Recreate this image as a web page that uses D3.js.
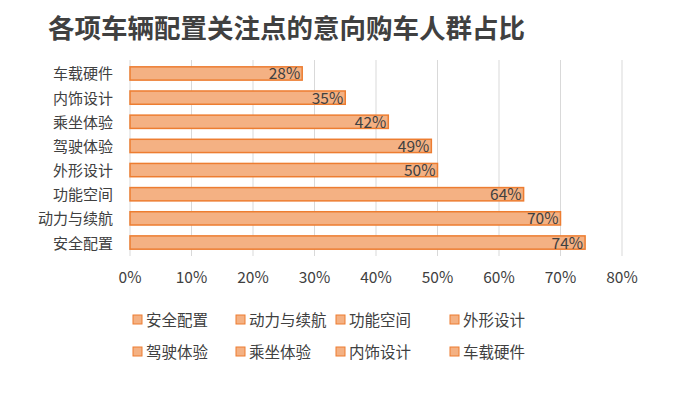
<!DOCTYPE html><html><head><meta charset="utf-8"><script src="https://cdn.jsdelivr.net/npm/d3@7"></script>
<style>body{margin:0;background:#fff}text{font-family:"Noto Sans CJK SC",sans-serif}</style></head><body><svg id="c" width="678" height="400"></svg><script>
const categories=["车载硬件","内饰设计","乘坐体验","驾驶体验","外形设计","功能空间","动力与续航","安全配置"];
const values=[28,35,42,49,50,64,70,74];
const ticks=[0,10,20,30,40,50,60,70,80];
const legendOrder=["安全配置","动力与续航","功能空间","外形设计","驾驶体验","乘坐体验","内饰设计","车载硬件"];
const svg=d3.select("#c");
svg.append("text").attr("x",48).attr("y",38).attr("font-size",26.5).attr("font-weight","bold").attr("fill","#404040").text("各项车辆配置关注点的意向购车人群占比");
const x=d3.scaleLinear().domain([0,80]).range([130,622]);
const y=d3.scaleBand().domain(categories).range([62,254]).paddingInner(0.45).paddingOuter(0.2);
svg.append("g").selectAll("line").data(ticks).join("line").attr("x1",d=>x(d)).attr("x2",d=>x(d)).attr("y1",60).attr("y2",256).attr("stroke","#d9d9d9");
svg.append("g").selectAll("rect").data(values).join("rect").attr("x",x(0)).attr("y",(d,i)=>y(categories[i])).attr("width",d=>x(d)-x(0)).attr("height",y.bandwidth()).attr("fill","#F4B183").attr("stroke","#ED7D31").attr("stroke-width",1.5);
svg.append("g").selectAll("text").data(values).join("text").attr("x",d=>x(d)-2).attr("y",(d,i)=>y(categories[i])+y.bandwidth()/2+6).attr("text-anchor","end").attr("font-size",15.5).attr("fill","#404040").text(d=>d+"%");
svg.append("g").selectAll("text").data(categories).join("text").attr("x",113).attr("y",d=>y(d)+y.bandwidth()/2+6).attr("text-anchor","end").attr("font-size",15).attr("fill","#404040").text(d=>d);
svg.append("g").selectAll("text").data(ticks).join("text").attr("x",d=>x(d)).attr("y",283).attr("text-anchor","middle").attr("font-size",15.5).attr("fill","#404040").text(d=>d+"%");
const lx=[133,236,336,450];
const lg=svg.append("g").selectAll("g").data(legendOrder).join("g").attr("transform",(d,i)=>`translate(${lx[i%4]},${i<4?320:352})`);
lg.append("rect").attr("x",0).attr("y",-5).attr("width",9).attr("height",9).attr("fill","#F4B183").attr("stroke","#ED7D31");
lg.append("text").attr("x",13).attr("y",5.5).attr("font-size",15.5).attr("fill","#404040").text(d=>d);
</script></body></html>
